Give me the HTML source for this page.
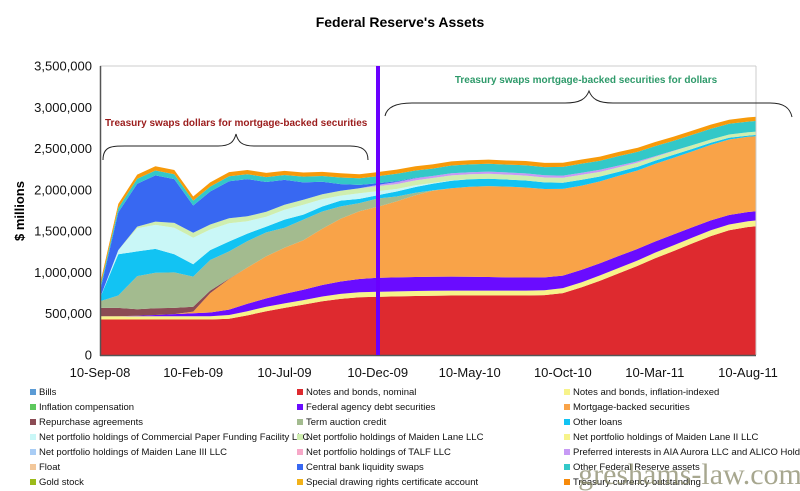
<!DOCTYPE html>
<html><head><meta charset="utf-8"><style>
body{margin:0;background:#fff;width:800px;height:491px;overflow:hidden;font-family:"Liberation Sans",sans-serif;}
svg{display:block}
</style></head><body>
<svg id="chart" width="800" height="491" viewBox="0 0 800 491" xmlns="http://www.w3.org/2000/svg">
<text x="400" y="27" text-anchor="middle" font-size="14" font-weight="bold" fill="#000">Federal Reserve's Assets</text>
<text transform="translate(24,211) rotate(-90)" text-anchor="middle" font-size="13" font-weight="bold" fill="#000">$ millions</text>
<g id="areas"></g>
<g id="axes"></g>
<g id="annot">
<line x1="378" y1="66" x2="378" y2="355" stroke="#6a00ff" stroke-width="4"/>
<text x="105" y="126" font-size="10" font-weight="bold" fill="#9b1c1c">Treasury swaps dollars for mortgage-backed securities</text>
<path d="M103,160 C103,146 112,146 125,146 L218,146 C230,146 234,142 236,134 C238,142 242,146 254,146 L350,146 C362,146 368,150 368,160" fill="none" stroke="#222" stroke-width="1"/>
<text x="586" y="83" text-anchor="middle" font-size="10" font-weight="bold" fill="#2e9a6a">Treasury swaps mortgage-backed securities for dollars</text>
<path d="M385,116 C387,106 398,103 412,103 L565,103 C580,103 586,99 589,91 C592,99 598,103 613,103 L770,103 C784,103 790,108 792,117" fill="none" stroke="#222" stroke-width="1"/>
</g>
<g id="legend"></g>
<text x="690" y="484" text-anchor="middle" font-family="Liberation Serif,serif" font-size="30" fill="#8a8a6a" fill-opacity="0.75">greshams-law.com</text>
</svg>
<script>
const dates=["2008-09-10","2008-10-10","2008-11-10","2008-12-10","2009-01-10","2009-02-10","2009-03-10","2009-04-10","2009-05-10","2009-06-10","2009-07-10","2009-08-10","2009-09-10","2009-10-10","2009-11-10","2009-12-10","2010-01-10","2010-02-10","2010-03-10","2010-04-10","2010-05-10","2010-06-10","2010-07-10","2010-08-10","2010-09-10","2010-10-10","2010-11-10","2010-12-10","2011-01-10","2011-02-10","2011-03-10","2011-04-10","2011-05-10","2011-06-10","2011-07-10","2011-08-10","2011-08-24"];
// values in $ billions
const notesNominal=[430,430,430,430,430,430,430,440,480,530,570,610,650,680,700,705,710,715,718,720,720,720,720,720,725,750,820,900,990,1080,1170,1260,1350,1440,1510,1550,1560];
const notesTips=[40,40,40,40,40,40,40,45,50,55,55,55,58,60,60,60,60,60,60,60,60,60,60,60,60,60,62,64,65,66,68,70,70,70,70,70,70];
const agencyDebt=[0,0,5,15,25,35,45,65,90,100,115,125,140,150,160,170,170,170,170,170,168,165,160,158,155,152,150,148,145,140,135,130,125,120,115,112,110];
const mbs=[0,0,0,0,0,20,235,370,440,510,560,600,680,760,820,860,920,990,1040,1070,1090,1100,1100,1090,1070,1050,1020,990,970,950,940,930,920,915,915,910,910];
const repo=[100,100,80,80,75,60,30,5,0,0,0,0,0,0,0,0,0,0,0,0,0,0,0,0,0,0,0,0,0,0,0,0,0,0,0,0,0];
const termAuction=[80,150,400,430,430,365,370,330,320,290,240,250,210,150,100,100,60,30,5,0,0,0,0,0,0,0,0,0,0,0,0,0,0,0,0,0,0];
const otherLoans=[40,500,300,290,220,150,120,120,90,70,100,60,60,70,50,40,60,70,80,90,90,90,85,85,80,75,70,60,50,45,40,35,30,25,20,15,15];
const cpff=[0,50,280,290,320,320,250,220,150,120,120,120,90,60,70,50,30,20,10,5,0,0,0,0,0,0,0,0,0,0,0,0,0,0,0,0,0];
const maidenLanes=[0,0,20,40,60,60,60,60,60,60,60,60,60,60,60,60,60,60,60,60,60,60,60,60,60,60,60,55,55,50,45,45,45,40,40,40,40];
const aiaPreferred=[0,0,0,0,0,0,0,0,0,0,0,0,0,0,0,15,25,25,25,25,25,26,26,26,26,26,26,26,20,15,10,5,0,0,0,0,0];
const cbSwaps=[80,460,520,560,530,330,400,450,450,360,300,210,150,80,40,20,10,5,0,0,0,0,0,0,0,0,0,0,0,0,0,0,0,0,0,0,0];
const otherFed=[40,50,60,60,60,60,60,60,60,60,60,70,70,80,80,85,90,90,90,95,95,95,95,100,100,105,110,110,115,115,120,120,125,130,130,130,130];
const goldSdrCurrency=[50,50,50,50,50,50,50,50,50,50,50,50,50,50,50,50,50,50,50,50,50,50,50,50,50,50,50,50,50,50,50,50,50,50,50,50,50];
const yTicks=[0,500000,1000000,1500000,2000000,2500000,3000000,3500000];
const xTickDates=["2008-09-10","2009-02-10","2009-07-10","2009-12-10","2010-05-10","2010-10-10","2011-03-10","2011-08-10"];
const xTickLabels=["10-Sep-08","10-Feb-09","10-Jul-09","10-Dec-09","10-May-10","10-Oct-10","10-Mar-11","10-Aug-11"];

const NS="http://www.w3.org/2000/svg";
const t0=Date.parse("2008-09-10"),t1=Date.parse("2011-08-10");
function xScale(d){return 100+(Date.parse(d)-t0)/(t1-t0)*648;}
function yScale(v){return 355-v/3500000*289;}
const layers=[
 ["notes-nominal",notesNominal,"#de2a2f"],["notes-tips",notesTips,"#f7f38a"],["agency-debt",agencyDebt,"#6a0cff"],
 ["mbs",mbs,"#f9a348"],["repo",repo,"#8b4b54"],["term-auction",termAuction,"#a3bb8f"],["other-loans",otherLoans,"#12c3f3"],
 ["cpff",cpff,"#c9f7f7"],["maiden-lanes",maidenLanes,"#cfeeb0"],["aia-preferred",aiaPreferred,"#c79af5"],
 ["cb-swaps",cbSwaps,"#3868f2"],["other-fed-assets",otherFed,"#33c8c8"],["gold-sdr-currency",goldSdrCurrency,"#f79a0a"]];
const g=document.getElementById("areas");
let base=dates.map(()=>0);
layers.forEach(([name,vals,col])=>{
  const top=base.map((b,i)=>b+vals[i]*1000);
  let d="M"+dates.map((dt,i)=>xScale(dt).toFixed(1)+","+yScale(top[i]).toFixed(1)).join("L");
  for(let i=dates.length-1;i>=0;i--)d+="L"+xScale(dates[i]).toFixed(1)+","+yScale(base[i]).toFixed(1);
  const p=document.createElementNS(NS,"path");
  p.setAttribute("d",d+"Z");p.setAttribute("fill",col);
  
  
  g.appendChild(p);base=top;
});
const ax=document.getElementById("axes");
function mk(tag,attrs,txt){const e=document.createElementNS(NS,tag);for(const k in attrs)e.setAttribute(k,attrs[k]);if(txt!==undefined)e.textContent=txt;ax.appendChild(e);return e;}
let fr=mk("line",{x1:100,y1:66,x2:756,y2:66,stroke:"#cccccc"});


fr=mk("line",{x1:756,y1:66,x2:756,y2:355,stroke:"#cccccc"});


fr=mk("line",{x1:100.5,y1:66,x2:100.5,y2:356,stroke:"#555",'stroke-width':1.5});


fr=mk("line",{x1:100,y1:355.5,x2:756,y2:355.5,stroke:"#555",'stroke-width':1.5});


yTicks.forEach(v=>{
  const t=mk("text",{x:92,y:yScale(v)+4.5,'text-anchor':'end','font-size':13,fill:'#111'},v.toLocaleString("en-US"));
  
  
});
xTickDates.forEach((d,i)=>{
  const t=mk("text",{x:xScale(d),y:377,'text-anchor':'middle','font-size':13,fill:'#111'},xTickLabels[i]);
  
  
});
const legendItems=[["Bills","#5b9bd5"],["Notes and bonds, nominal","#de2a2f"],["Notes and bonds, inflation-indexed","#f7f38a"],
["Inflation compensation","#5dc85d"],["Federal agency debt securities","#6a0cff"],["Mortgage-backed securities","#f9a348"],
["Repurchase agreements","#8b4b54"],["Term auction credit","#a3bb8f"],["Other loans","#12c3f3"],
["Net portfolio holdings of Commercial Paper Funding Facility LLC","#c9f7f7"],["Net portfolio holdings of Maiden Lane LLC","#cfeeb0"],["Net portfolio holdings of Maiden Lane II LLC","#f7f38a"],
["Net portfolio holdings of Maiden Lane III LLC","#a9cdf5"],["Net portfolio holdings of TALF LLC","#f7a8c8"],["Preferred interests in AIA Aurora LLC and ALICO Holdings LLC","#c79af5"],
["Float","#f2c79a"],["Central bank liquidity swaps","#3868f2"],["Other Federal Reserve assets","#33c8c8"],
["Gold stock","#9bbb1a"],["Special drawing rights certificate account","#f2b21a"],["Treasury currency outstanding","#f78a0a"]];
const lg=document.getElementById("legend");
const colX=[30,297,564];
legendItems.forEach(([lab,col],i)=>{
  const r=Math.floor(i/3),c=i%3,y=395+r*15;
  const gi=document.createElementNS(NS,"g");
  
  
  const s=document.createElementNS(NS,"rect");
  s.setAttribute("x",colX[c]);s.setAttribute("y",y-6);s.setAttribute("width",6);s.setAttribute("height",6);s.setAttribute("fill",col);
  const tx=document.createElementNS(NS,"text");
  tx.setAttribute("x",colX[c]+9);tx.setAttribute("y",y);tx.setAttribute("font-size",9.5);tx.setAttribute("fill","#111");
  tx.textContent=lab;
  gi.appendChild(s);gi.appendChild(tx);lg.appendChild(gi);
});
</script>
</body></html>
